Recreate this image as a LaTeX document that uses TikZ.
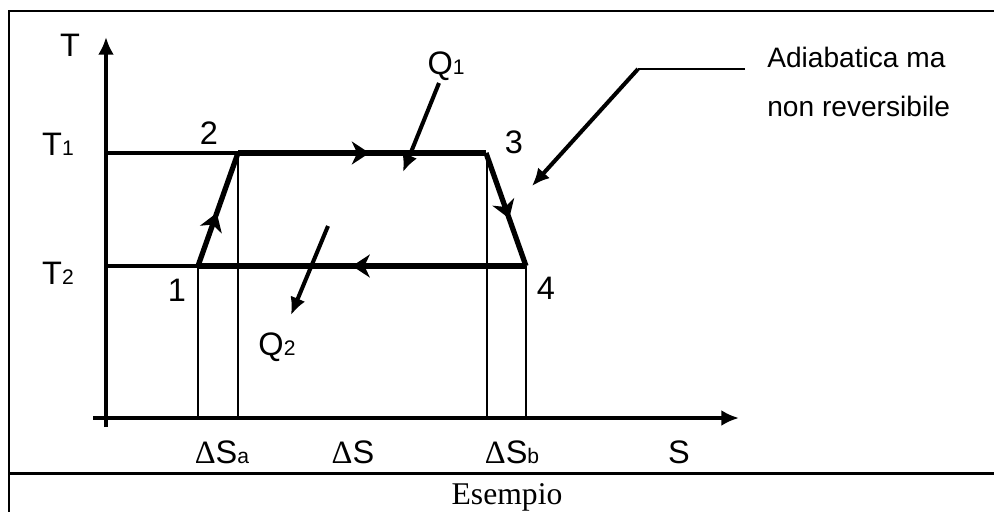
\documentclass[tikz,border=0pt]{standalone}
\usepackage{fontspec}
\setmainfont{Liberation Serif}
\newfontfamily\arialfont{Liberation Sans}
\usetikzlibrary{arrows.meta, decorations.markings}

% small index digits and letters
\newcommand{\idx}[1]{{\fontsize{12}{12}\selectfont #1}}

\begin{document}
\begin{tikzpicture}[x=0.02cm, y=-0.02cm,
  frame/.style={line width=1.7pt},
  ax/.style={line width=2.4pt, -{Latex[length=10pt, width=9pt]}},
  cyc/.style={line width=3pt, line join=round},
  thn/.style={line width=1.7pt},
  lbl/.style={font=\arialfont\fontsize{18.5}{18.5}\selectfont, inner sep=0pt},
  ptr/.style={line width=2.3pt, -{Latex[length=10pt, width=9pt]}},
  midarr/.style={postaction={decorate}, decoration={markings,
      mark=at position #1 with {\arrow{Stealth[length=10pt, width=13pt, inset=3pt]}}}}]
  \useasboundingbox (0,0) rectangle (994,511);
  % table frame
  \draw[frame] (9,520) -- (9,11) -- (1000,11);
  \draw[frame] (9,473) -- (1000,473);
  \node[font=\fontsize{18}{18}\selectfont, inner sep=0pt] (cap) at (507,497) {Esempio};
  % axes
  \coordinate (tbase) at (106,427);
  \coordinate (ttop)  at (106,37);
  \coordinate (sbase) at (93,418);
  \coordinate (send)  at (739,418);
  \draw[ax] (tbase) -- (ttop);
  \draw[ax] (sbase) -- (send);
  % cycle points
  \coordinate (p1) at (198,266);
  \coordinate (p2) at (238,153);
  \coordinate (p3) at (486,153);
  \coordinate (p4) at (526,266);
  \coordinate (a1) at (106,153);
  \coordinate (a2) at (106,266);
  \coordinate (f1) at (198,418);
  \coordinate (f2) at (238,418);
  \coordinate (f3) at (487,418);
  \coordinate (f4) at (526,418);
  \draw[thn] (p1) -- (f1);
  \draw[thn] (p2) -- (f2);
  \draw[line width=1pt] (487,153) -- (f3);
  \draw[thn] (p4) -- (f4);
  \draw[line width=2.2pt] (a1) -- (p2);
  \draw[line width=2.2pt] (a2) -- (p1);
  \draw[cyc, midarr=0.47] (p1) -- (p2);
  \draw[cyc, midarr=0.53] (p2) -- (p3);
  \draw[cyc, midarr=0.58] (p3) -- (p4);
  \draw[cyc, midarr=0.53] (p4) -- (p1);
  % labels
  \node[lbl] (tlab)  at (70,45)  {T};
  \node[lbl] (t1lab) at (58,144) {T\idx{1}};
  \node[lbl] (t2lab) at (58,273) {T\idx{2}};
  \node[lbl] (n1) at (177,290) {1};
  \node[lbl] (n2) at (209,133) {2};
  \node[lbl] (n3) at (514,142) {3};
  \node[lbl] (n4) at (546,288) {4};
  \node[lbl] (dsa) at (222,452) {{\rmfamily Δ}S\idx{a}};
  \node[lbl] (ds)  at (353,452) {{\rmfamily Δ}S};
  \node[lbl] (dsb) at (512,452) {{\rmfamily Δ}S\idx{b}};
  \node[lbl] (slab) at (679,452) {S};
  % heat arrows
  \node[lbl] (q1) at (446,66) {Q\idx{1}};
  \node[lbl] (q2) at (277,347) {Q\idx{2}};
  \coordinate (q1s) at (439,83);
  \coordinate (q1e) at (403,172);
  \coordinate (q2s) at (328,226);
  \coordinate (q2e) at (291,315);
  \draw[ptr] (q1s) -- (q1e);
  \draw[ptr] (q2s) -- (q2e);
  % note on the adiabatic
  \node[lbl, font=\arialfont\fontsize{16}{28}\selectfont, anchor=north west,
        align=left] (note) at (767,47) {Adiabatica ma\\non reversibile};
  \coordinate (ada) at (745,69);
  \coordinate (adb) at (638,69);
  \coordinate (adc) at (532,186);
  \draw[line width=1.5pt] (ada) -- (adb);
  \draw[ptr] (adb) -- (adc);
\end{tikzpicture}
\end{document}
